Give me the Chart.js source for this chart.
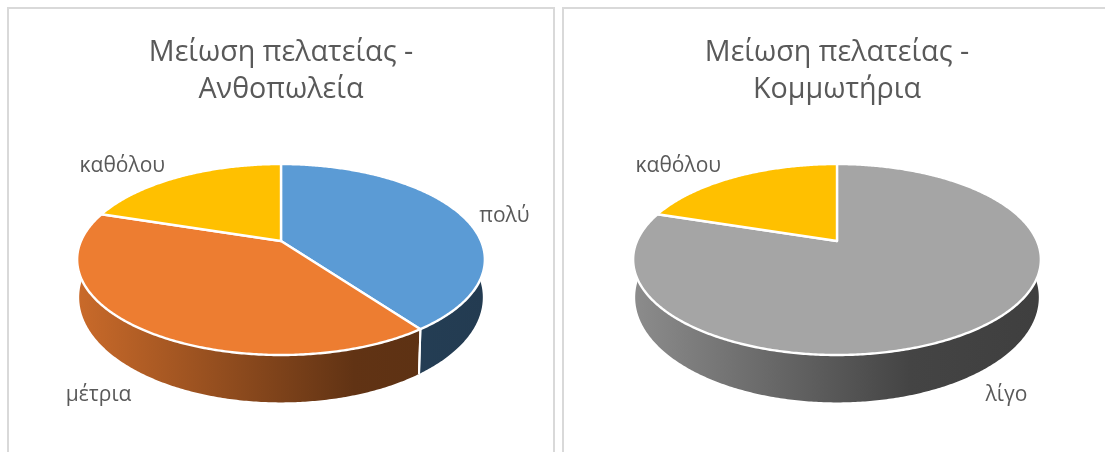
<!DOCTYPE html>
<html>
<head>
<meta charset="utf-8">
<script src="https://cdn.jsdelivr.net/npm/chart.js@4"></script>
<style>
  html, body { margin: 0; padding: 0; background: #fff; overflow: hidden; width: 1105px; height: 452px; }
  .panel { position: absolute; top: 7px; height: 500px; border: 2px solid #d9d9d9; box-sizing: border-box; }
  canvas { position: absolute; top: 9px; }
</style>
</head>
<body>
<div class="panel" style="left:7px;width:548px"></div>
<div class="panel" style="left:562px;width:600px"></div>
<canvas id="flowers" width="544" height="443" style="left:9px"></canvas>
<canvas id="hair" width="546" height="443" style="left:564px"></canvas>
<script>
const categories = ['πολύ', 'μέτρια', 'λίγο', 'καθόλου'];
const sliceColors = ['#5b9bd5', '#ed7d31', '#a5a5a5', '#ffc000'];

const flowerValues = [40, 40, 0, 20];
const hairValues = [0, 0, 80, 20];

const flowerTitle = ['Μείωση πελατείας -', 'Ανθοπωλεία'];
const hairTitle = ['Μείωση πελατείας -', 'Κομμωτήρια'];

// label shift from the rim point of each slice, same order as categories
const flowerLabelShift = [[44, 2], [-43, 66], [0, 0], [-57, -11]];
const hairLabelShift = [[0, 0], [0, 0], [30, 66], [-57, -11]];

// Excel style 3D pie, the centre of the disc sits above the middle of the ellipse
const RX = 200, RY = 91.9, PERSP = 0.1937;

function rim(el, angle) {
  const t = angle + Math.PI / 2;
  const w = 1 + PERSP * Math.cos(t);
  return { x: el.x + RX * Math.sin(t) / w, y: el.y - RY * Math.cos(t) / w };
}

// bottom edge of the wall, a bit narrower and lower than the top edge
function rimLow(el, angle) {
  const p = rim(el, angle);
  return { x: el.x + (p.x - el.x) * 0.99, y: el.y + 36 + (p.y - el.y) * 1.1 };
}

function shade(hex, f) {
  const n = parseInt(hex.slice(1), 16);
  return `rgb(${(n >> 16) * f},${((n >> 8) & 255) * f},${(n & 255) * f})`;
}

function sweep(a, b) {
  const out = [];
  const steps = Math.max(2, Math.ceil((b - a) / 0.01));
  for (let i = 0; i <= steps; i++) out.push(a + (b - a) * i / steps);
  return out;
}

const pie3d = {
  id: 'pie3d',
  beforeDatasetsDraw(chart, args, opts) {
    const ctx = chart.ctx;
    const arcs = chart.getDatasetMeta(0).data;
    const colors = chart.data.datasets[0].backgroundColor;
    ctx.save();
    ctx.lineJoin = 'round';

    // walls, only the front half is ever seen
    arcs.forEach((el, i) => {
      if (!chart.data.datasets[0].data[i]) return;
      const a = Math.max(el.startAngle, 0);
      const b = Math.min(el.endAngle, Math.PI);
      if (b <= a) return;
      const left = el.x - 203, right = el.x + 203;
      const g = ctx.createLinearGradient(left, 0, right, 0);
      g.addColorStop(0, shade(colors[i], 0.85));
      g.addColorStop(0.68, shade(colors[i], 0.41));
      g.addColorStop(1, shade(colors[i], 0.38));
      ctx.beginPath();
      sweep(a, b).forEach(t => { const p = rim(el, t); ctx.lineTo(p.x, p.y); });
      sweep(a, b).reverse().forEach(t => { const p = rimLow(el, t); ctx.lineTo(p.x, p.y); });
      ctx.closePath();
      ctx.fillStyle = g;
      ctx.fill();
    });
    // white seams between walls
    arcs.forEach((el, i) => {
      if (!chart.data.datasets[0].data[i]) return;
      [el.startAngle, el.endAngle].forEach(t => {
        if (t <= 0.6 || t >= Math.PI - 0.05) return;
        const p = rim(el, t), q = rimLow(el, t);
        ctx.beginPath();
        ctx.moveTo(p.x, p.y);
        ctx.lineTo(q.x, q.y);
        ctx.strokeStyle = '#fff';
        ctx.lineWidth = 2;
        ctx.stroke();
      });
    });

    // top of the disc
    arcs.forEach((el, i) => {
      if (!chart.data.datasets[0].data[i]) return;
      ctx.beginPath();
      ctx.moveTo(el.x, el.y);
      sweep(el.startAngle, el.endAngle).forEach(t => { const p = rim(el, t); ctx.lineTo(p.x, p.y); });
      ctx.closePath();
      ctx.fillStyle = colors[i];
      ctx.fill();
      ctx.strokeStyle = '#fff';
      ctx.lineWidth = 2.4;
      ctx.stroke();
    });

    // labels
    ctx.font = '21px "Open Sans"';
    ctx.fillStyle = '#595959';
    ctx.textAlign = 'center';
    ctx.textBaseline = 'middle';
    arcs.forEach((el, i) => {
      if (!chart.data.datasets[0].data[i]) return;
      const p = rim(el, (el.startAngle + el.endAngle) / 2);
      const s = opts.labelShift[i];
      ctx.fillText(chart.data.labels[i], p.x + s[0], p.y + s[1]);
    });
    ctx.restore();
    return false;
  }
};

function drawPie(id, values, title, labelShift) {
  new Chart(document.getElementById(id), {
    type: 'pie',
    data: {
      labels: categories,
      datasets: [{ data: values, backgroundColor: sliceColors, borderWidth: 0 }]
    },
    options: {
      responsive: false,
      animation: false,
      layout: { padding: { bottom: 98 } },
      plugins: {
        legend: { display: false },
        tooltip: { enabled: false },
        pie3d: { labelShift },
        title: {
          display: true,
          text: title,
          color: '#595959',
          font: { family: 'Open Sans', size: 28.7, weight: 'normal', lineHeight: 1.29 },
          padding: { top: 25, bottom: 20 }
        }
      }
    },
    plugins: [pie3d]
  });
}

drawPie('flowers', flowerValues, flowerTitle, flowerLabelShift);
drawPie('hair', hairValues, hairTitle, hairLabelShift);
</script>
</body>
</html>
